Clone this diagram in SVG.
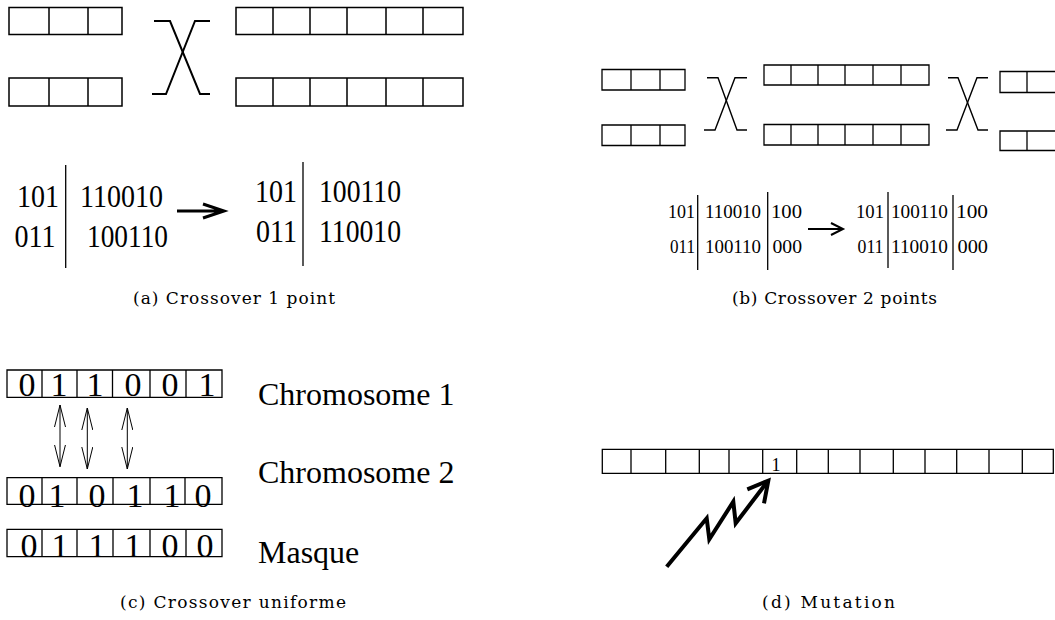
<svg xmlns="http://www.w3.org/2000/svg" width="1055" height="620" viewBox="0 0 1055 620">
<style>
.box{fill:none;stroke:#000;stroke-width:1.5}
.thin{fill:none;stroke:#000;stroke-width:1.3}
.cross{fill:none;stroke:#000;stroke-width:2}
.crossb{fill:none;stroke:#000;stroke-width:1.4}
.vl{stroke:#000;stroke-width:1.3}
.num{font-family:"Liberation Serif","Times New Roman",serif;fill:#000}
.cap{font-family:"DejaVu Serif","Liberation Serif",serif;font-size:17px;fill:#000}
</style>
<defs>
<marker id="vhead" viewBox="0 0 22 12" refX="22" refY="6" markerWidth="22" markerHeight="12" markerUnits="userSpaceOnUse" orient="auto-start-reverse">
<path d="M0,0.5 L22,6 L0,11.5" fill="none" stroke="#000" stroke-width="1"/>
</marker>
</defs>
<rect width="1055" height="620" fill="#fff"/>

<!-- Panel (a) -->
<g id="a-left-top"><path class="box" d="M9,7.5H122V34.5H9Z M49,7.5V34.5 M88,7.5V34.5"/></g>
<g id="a-left-bottom"><path class="box" d="M9,78H122V106H9Z M49,78V106 M88,78V106"/></g>
<g id="a-right-top"><path class="box" d="M236,7.5H463V34.5H236Z M273,7.5V34.5 M310,7.5V34.5 M347,7.5V34.5 M386,7.5V34.5 M423,7.5V34.5"/></g>
<g id="a-right-bottom"><path class="box" d="M236,78H463V106H236Z M273,78V106 M310,78V106 M347,78V106 M386,78V106 M423,78V106"/></g>
<g id="a-text-before">
<text class="num" font-size="32" x="17" y="207" textLength="42" lengthAdjust="spacingAndGlyphs">101</text>
<text class="num" font-size="32" x="80" y="207" textLength="83" lengthAdjust="spacingAndGlyphs">110010</text>
<text class="num" font-size="32" x="14.5" y="247" textLength="41" lengthAdjust="spacingAndGlyphs">011</text>
<text class="num" font-size="32" x="87" y="247" textLength="81" lengthAdjust="spacingAndGlyphs">100110</text>
<line class="vl" x1="65.7" y1="165" x2="65.7" y2="268"/>
</g>
<g id="a-text-after">
<text class="num" font-size="32" x="255" y="202" textLength="42" lengthAdjust="spacingAndGlyphs">101</text>
<text class="num" font-size="32" x="319" y="202" textLength="82" lengthAdjust="spacingAndGlyphs">100110</text>
<text class="num" font-size="32" x="256" y="242" textLength="41" lengthAdjust="spacingAndGlyphs">011</text>
<text class="num" font-size="32" x="319" y="242" textLength="82" lengthAdjust="spacingAndGlyphs">110010</text>
<line class="vl" x1="303" y1="162" x2="303" y2="266"/>
</g>
<text id="cap-a" class="cap" x="133" y="304" textLength="202">(a) Crossover 1 point</text>

<!-- Panel (b) -->
<g id="b-left-top"><path class="thin" d="M602,69.5H685V90H602Z M631,69.5V90 M660,69.5V90"/></g>
<g id="b-left-bottom"><path class="thin" d="M602,125H685V145.5H602Z M631,125V145.5 M660,125V145.5"/></g>
<g id="b-mid-top"><path class="thin" d="M764,65H929V85H764Z M791,65V85 M818,65V85 M845,65V85 M873,65V85 M901,65V85"/></g>
<g id="b-mid-bottom"><path class="thin" d="M764,124.5H929V145H764Z M791,124.5V145 M818,124.5V145 M845,124.5V145 M873,124.5V145 M901,124.5V145"/></g>
<g id="b-right-top"><path class="thin" d="M1060,71.5H1000V92.5H1060 M1027,71.5V92.5"/></g>
<g id="b-right-bottom"><path class="thin" d="M1060,131H1000V150.5H1060 M1027,131V150.5"/></g>
<g id="b-text-before">
<text class="num" font-size="18.5" x="668" y="218" textLength="27" lengthAdjust="spacingAndGlyphs">101</text>
<text class="num" font-size="18.5" x="705" y="218" textLength="56" lengthAdjust="spacingAndGlyphs">110010</text>
<text class="num" font-size="18.5" x="771" y="218" textLength="31" lengthAdjust="spacingAndGlyphs">100</text>
<text class="num" font-size="18.5" x="670" y="253" textLength="25" lengthAdjust="spacingAndGlyphs">011</text>
<text class="num" font-size="18.5" x="705" y="253" textLength="56" lengthAdjust="spacingAndGlyphs">100110</text>
<text class="num" font-size="18.5" x="772.5" y="253" textLength="29.5" lengthAdjust="spacingAndGlyphs">000</text>
<line class="vl" x1="697.7" y1="195" x2="697.7" y2="270"/>
<line class="vl" x1="767.7" y1="192" x2="767.7" y2="270"/>
</g>
<g id="b-text-after">
<text class="num" font-size="18.5" x="856" y="218" textLength="28" lengthAdjust="spacingAndGlyphs">101</text>
<text class="num" font-size="18.5" x="891" y="218" textLength="57" lengthAdjust="spacingAndGlyphs">100110</text>
<text class="num" font-size="18.5" x="956" y="218" textLength="32" lengthAdjust="spacingAndGlyphs">100</text>
<text class="num" font-size="18.5" x="857.5" y="253" textLength="26" lengthAdjust="spacingAndGlyphs">011</text>
<text class="num" font-size="18.5" x="891" y="253" textLength="57" lengthAdjust="spacingAndGlyphs">110010</text>
<text class="num" font-size="18.5" x="957.5" y="253" textLength="30.5" lengthAdjust="spacingAndGlyphs">000</text>
<line class="vl" x1="888" y1="192" x2="888" y2="268"/>
<line class="vl" x1="953" y1="195" x2="953" y2="270"/>
</g>
<text id="cap-b" class="cap" x="732" y="304" textLength="205">(b) Crossover 2 points</text>

<!-- Panel (c) -->
<g id="c-chromosome1">
<path class="thin" d="M7,370H222V397.3H7Z M42,370V397.3 M77,370V397.3 M112.5,370V397.3 M150,370V397.3 M186,370V397.3"/>
<g class="num" font-size="34" text-anchor="middle">
<text x="27" y="396">0</text><text x="59" y="396">1</text><text x="95" y="396">1</text><text x="133" y="396">0</text><text x="170" y="396">0</text><text x="207" y="396">1</text>
</g>
<text class="num" font-size="32" x="258" y="405">Chromosome 1</text>
</g>
<g id="c-chromosome2">
<path class="thin" d="M7,477.7H222V504.3H7Z M42,477.7V504.3 M77,477.7V504.3 M113,477.7V504.3 M150,477.7V504.3 M185,477.7V504.3"/>
<g class="num" font-size="34" text-anchor="middle">
<text x="27" y="507">0</text><text x="57" y="507">1</text><text x="97" y="507">0</text><text x="135" y="507">1</text><text x="172" y="507">1</text><text x="203" y="507">0</text>
</g>
<text class="num" font-size="32" x="258" y="483">Chromosome 2</text>
</g>
<g id="c-masque">
<path class="thin" d="M7,529.3H222V556.7H7Z M42,529.3V556.7 M77,529.3V556.7 M113,529.3V556.7 M150,529.3V556.7 M186,529.3V556.7"/>
<g class="num" font-size="34" text-anchor="middle">
<text x="29" y="557">0</text><text x="60" y="557">1</text><text x="97" y="557">1</text><text x="133" y="557">1</text><text x="170" y="557">0</text><text x="205" y="557">0</text>
</g>
<text class="num" font-size="32" x="258" y="563">Masque</text>
</g>
<text id="cap-c" class="cap" x="120" y="608" textLength="226">(c) Crossover uniforme</text>

<!-- Panel (d) -->
<g id="d-chromosome">
<path class="thin" d="M602.3,449.3H1053.3V473.3H602.3Z M631,449.3V473.3 M665.7,449.3V473.3 M699.3,449.3V473.3 M729,449.3V473.3 M762.7,449.3V473.3 M796.7,449.3V473.3 M828.3,449.3V473.3 M860,449.3V473.3 M893.3,449.3V473.3 M925,449.3V473.3 M956.7,449.3V473.3 M989,449.3V473.3 M1022.3,449.3V473.3"/>
<text class="num" font-size="18" x="776" y="471" text-anchor="middle">1</text>
</g>
<text id="cap-d" class="cap" x="762" y="608" textLength="133">(d) Mutation</text>

<!-- Connectors -->
<g id="connectors">
<polyline class="cross" points="154,21 170,21 200,94 210,94"/>
<polyline class="cross" points="152,94 166,94 195,21 210,21"/>
<path d="M177,211H222 M203,204L224,211L203,218" fill="none" stroke="#000" stroke-width="3"/>
<polyline class="crossb" points="707,77.7 718,77.7 737,130 747,130"/>
<polyline class="crossb" points="704,130 715,130 735,77.7 747,77.7"/>
<polyline class="crossb" points="948,77.7 958,77.7 978,130 988,130"/>
<polyline class="crossb" points="946,130 957,130 977,77.7 988,77.7"/>
<path d="M808,229H842 M831,223L843,229L831,235" fill="none" stroke="#000" stroke-width="2"/>
<line x1="60" y1="405" x2="60" y2="466.7" stroke="#000" stroke-width="1" marker-start="url(#vhead)" marker-end="url(#vhead)"/>
<line x1="87.3" y1="408" x2="87.3" y2="469" stroke="#000" stroke-width="1" marker-start="url(#vhead)" marker-end="url(#vhead)"/>
<line x1="127.3" y1="408" x2="127.3" y2="469" stroke="#000" stroke-width="1" marker-start="url(#vhead)" marker-end="url(#vhead)"/>
<polyline points="666.7,566.7 706.7,518.3 709.3,539.3 733.3,501.7 735.7,523.3 766,483.5" fill="none" stroke="#000" stroke-width="4" stroke-linejoin="miter"/>
<polyline points="747.3,489.3 768.3,480.7 764,503.3" fill="none" stroke="#000" stroke-width="4" stroke-linejoin="miter"/>
</g>
</svg>
